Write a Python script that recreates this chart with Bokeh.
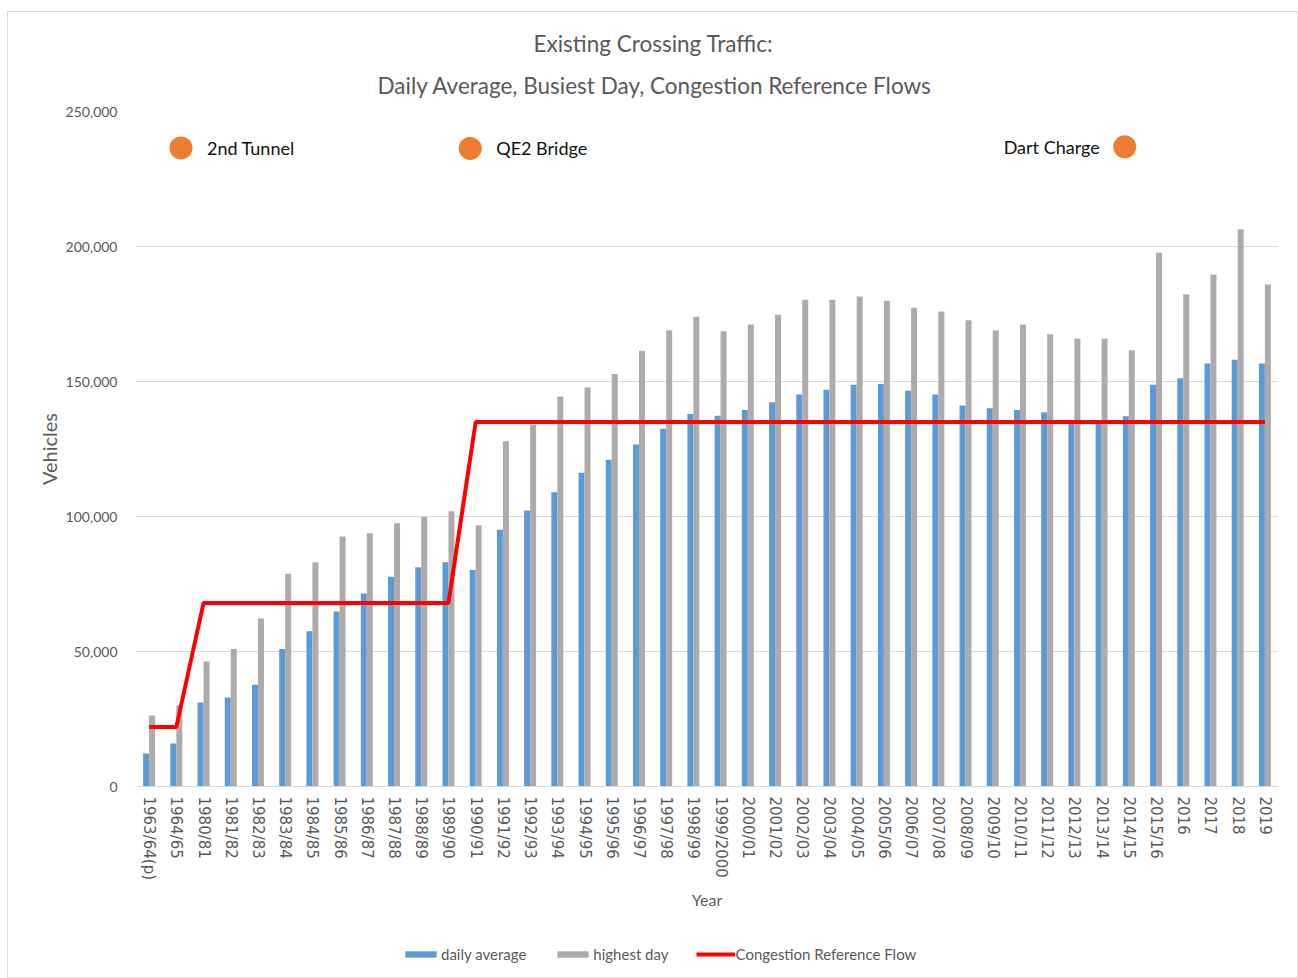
import numpy as np
from bokeh.plotting import figure
from bokeh.layouts import column
from bokeh.models import (Range1d, FixedTicker, NumeralTickFormatter, Title,
                          Legend, LegendItem, ColumnDataSource)
from bokeh.core.properties import value
from bokeh.embed import file_html
from bokeh.resources import INLINE

# ---------------- data ----------------
categories = ["1963/64(p)", "1964/65", "1980/81", "1981/82", "1982/83", "1983/84",
              "1984/85", "1985/86", "1986/87", "1987/88", "1988/89", "1989/90",
              "1990/91", "1991/92", "1992/93", "1993/94", "1994/95", "1995/96",
              "1996/97", "1997/98", "1998/99", "1999/2000", "2000/01", "2001/02",
              "2002/03", "2003/04", "2004/05", "2005/06", "2006/07", "2007/08",
              "2008/09", "2009/10", "2010/11", "2011/12", "2012/13", "2013/14",
              "2014/15", "2015/16", "2016", "2017", "2018", "2019"]

daily_average = [12200, 15900, 31100, 33000, 37700, 50900, 57500, 64800, 71500, 77700,
                 81200, 83100, 80200, 95100, 102200, 109000, 116200, 121000, 126700,
                 132500, 138000, 137300, 139400, 142300, 145200, 146900, 148800,
                 149100, 146600, 145200, 141100, 140100, 139400, 138600, 134300,
                 134500, 137100, 148800, 151200, 156700, 158100, 156700]

highest_day = [26300, 30000, 46300, 50900, 62200, 78800, 83100, 92600, 93800, 97500,
               99800, 101900, 96800, 127900, 134100, 144400, 147800, 152800, 161400,
               169000, 174000, 168600, 171100, 174700, 180300, 180300, 181500,
               179900, 177300, 175900, 172700, 168900, 171100, 167500, 165800,
               165800, 161600, 197700, 182300, 189500, 206400, 185900]

congestion_ref = [22000, 22000, 68000, 68000, 68000, 68000, 68000, 68000, 68000, 68000,
                  68000, 68000, 135000, 135000, 135000, 135000, 135000, 135000, 135000,
                  135000, 135000, 135000, 135000, 135000, 135000, 135000, 135000,
                  135000, 135000, 135000, 135000, 135000, 135000, 135000, 135000,
                  135000, 135000, 135000, 135000, 135000, 135000, 135000]

event_names = ["2nd Tunnel", "QE2  Bridge", "Dart Charge"]
event_pos = [1.17, 11.8, 35.85]          # position along the category axis
event_level = [236500, 236300, 236900]   # vehicles axis

y_ticks = [0, 50000, 100000, 150000, 200000, 250000]

series_names = ["daily average", "highest day", "Congestion Reference Flow"]
title_line1 = "Existing Crossing Traffic:"
title_line2 = "Daily Average, Busiest Day, Congestion Reference Flows"

BLUE, GREY, RED, ORANGE = "#5B9BD5", "#AEAAAA", "#FF0000", "#ED7D31"
TXT = "#595959"

# ---------------- main figure ----------------
W, H = 1289, 913
p = figure(width=W, height=H, output_backend="svg", toolbar_location=None,
           x_range=Range1d(-0.5, len(categories) - 0.5), y_range=Range1d(0, 250000),
           min_border_left=127, min_border_right=19, min_border_top=99,
           min_border_bottom=139)
p.outline_line_color = None
p.background_fill_color = "white"
p.border_fill_color = "white"

idx = np.arange(len(categories))
bw = 0.22
src = ColumnDataSource(dict(xb=idx - bw / 2, xg=idx + bw / 2, x=idx,
                            avg=daily_average, hi=highest_day, ref=congestion_ref))

p.vbar(x="xb", top="avg", width=bw, source=src, fill_color=BLUE, line_color=None)
p.vbar(x="xg", top="hi", width=bw, source=src, fill_color=GREY, line_color=None)
p.line(x="x", y="ref", source=src, line_color=RED, line_width=4)

# event markers
esrc = ColumnDataSource(dict(x=event_pos, y=event_level, name=event_names))
p.scatter(x="x", y="y", source=esrc, size=23, marker="circle",
          fill_color=ORANGE, line_color=None)
left_src = ColumnDataSource(dict(x=event_pos[:2], y=event_level[:2], name=event_names[:2]))
right_src = ColumnDataSource(dict(x=event_pos[2:], y=event_level[2:], name=event_names[2:]))
p.text(x="x", y="y", text="name", source=left_src, x_offset=26, text_align="left",
       text_baseline="middle", text_font=value("Lato"), text_font_size="18px",
       text_color="#111111")
p.text(x="x", y="y", text="name", source=right_src, x_offset=-25, text_align="right",
       text_baseline="middle", text_font=value("Lato"), text_font_size="18px",
       text_color="#111111")

# axes
p.xgrid.visible = False
p.ygrid.ticker = FixedTicker(ticks=y_ticks)
p.ygrid.grid_line_color = "#D9D9D9"
p.ygrid.grid_line_width = 1

p.yaxis.ticker = FixedTicker(ticks=y_ticks)
p.yaxis.formatter = NumeralTickFormatter(format="0,0")
p.yaxis.axis_line_color = None
p.yaxis.major_tick_line_color = None
p.yaxis.minor_tick_line_color = None
p.yaxis.major_label_text_font = "Lato"
p.yaxis.major_label_text_font_size = "14px"
p.yaxis.major_label_text_color = TXT
p.yaxis.major_label_standoff = 12
p.yaxis.axis_label = "Vehicles"
p.yaxis.axis_label_text_font = "Lato"
p.yaxis.axis_label_text_font_size = "20px"
p.yaxis.axis_label_text_font_style = "normal"
p.yaxis.axis_label_text_color = TXT
p.yaxis.axis_label_standoff = 2

p.xaxis.ticker = FixedTicker(ticks=list(idx))
p.xaxis.major_label_overrides = {int(i): c for i, c in enumerate(categories)}
p.xaxis.major_label_orientation = "vertical"
p.xaxis.axis_line_color = "#D9D9D9"
p.xaxis.major_tick_line_color = None
p.xaxis.minor_tick_line_color = None
p.xaxis.major_label_text_font = "DejaVu Sans"
p.xaxis.major_label_text_font_size = "15px"
p.xaxis.major_label_text_color = TXT
p.xaxis.major_label_standoff = 4
p.xaxis.axis_label = "Year"
p.xaxis.axis_label_text_font = "Lato"
p.xaxis.axis_label_text_font_size = "16px"
p.xaxis.axis_label_text_font_style = "normal"
p.xaxis.axis_label_text_color = TXT
p.xaxis.axis_label_standoff = 7

# title: two lines, centred over the whole chart
p.title.text = ""
p.add_layout(Title(text=title_line2, align="left", offset=242, text_font="Lato",
                   text_font_size="22.5px", text_font_style="normal",
                   text_color=TXT, standoff=26), "above")
p.add_layout(Title(text=title_line1, align="left", offset=398, text_font="Lato",
                   text_font_size="22.5px", text_font_style="normal",
                   text_color=TXT, standoff=0), "above")

# ---------------- legend strip ----------------
lp = figure(width=W, height=52, output_backend="svg", toolbar_location=None,
            x_range=Range1d(0, 1), y_range=Range1d(0, 1),
            min_border_left=0, min_border_right=0, min_border_top=0,
            min_border_bottom=0)
lp.outline_line_color = None
lp.axis.visible = False
lp.grid.visible = False
lp.title.text = ""
# zero-size stand-ins that only carry the legend swatch styles
swatch = ColumnDataSource(dict(x=[0.5], y=[0.5], top=[0]))
g_avg = lp.vbar(x="x", top="top", width=0, source=swatch, fill_color=BLUE, line_color=None)
g_hi = lp.vbar(x="x", top="top", width=0, source=swatch, fill_color=GREY, line_color=None)
g_ref = lp.line(x="x", y="y", source=swatch, line_color=RED, line_width=4)

legend = Legend(items=[LegendItem(label=series_names[0], renderers=[g_avg]),
                       LegendItem(label=series_names[1], renderers=[g_hi]),
                       LegendItem(label=series_names[2], renderers=[g_ref])],
                orientation="horizontal", location=(266, 14),
                glyph_width=39, glyph_height=8, label_height=16, label_standoff=1,
                spacing=27, padding=0, margin=0, border_line_color=None,
                background_fill_alpha=0, label_text_font="Lato",
                label_text_font_size="15px", label_text_color=TXT)
lp.add_layout(legend, "center")

layout = column(p, lp, spacing=0)
layout.styles = {"margin-left": "7px", "margin-top": "11px",
                 "border": "1px solid #D9D9D9", "background-color": "white"}

open("out.html", "w").write(file_html(layout, INLINE))
